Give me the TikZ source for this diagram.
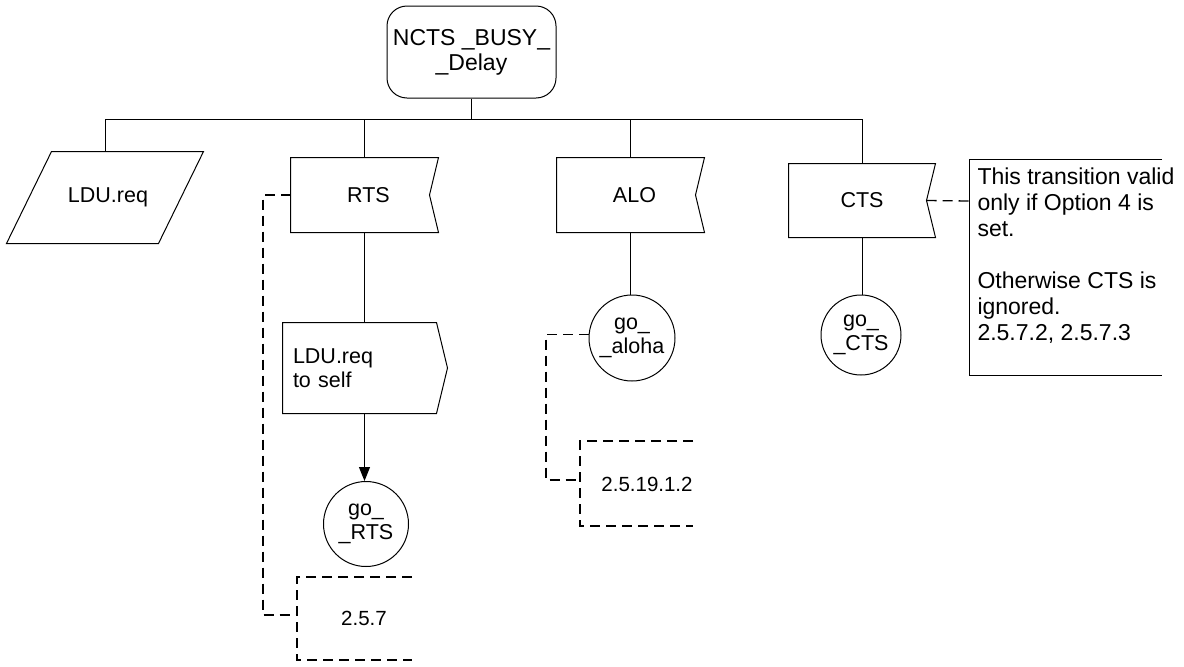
\documentclass[tikz,border=0pt]{standalone}
\usepackage{fontspec}
\setmainfont{Liberation Sans}
\usetikzlibrary{arrows.meta}
\begin{document}
\begin{tikzpicture}[x=1pt,y=-1pt,line width=1pt,
  every node/.style={font=\fontsize{21.5}{24}\selectfont, inner sep=0pt},
  dsh/.style={dash pattern=on 10pt off 6pt, line width=1.3pt},
  box/.style={minimum width=147pt, minimum height=74pt},
  conn/.style={circle, draw, align=center},
  reftext/.style={font=\fontsize{20.5}{24}\selectfont}]
\useasboundingbox (0,0) rectangle (1184,667);
% state
\node[draw, rounded corners=20pt, minimum width=169pt, minimum height=92pt, align=center, font=\fontsize{23}{25}\selectfont] (state) at (471.5,52) {NCTS \_BUSY\_\\\_Delay};
\coordinate (busL) at (105,119);
\coordinate (busR) at (863,119);
\draw (busL) -- (busR);
\draw (state.south) -- (state.south |- busL);
% LDU.req input (parallelogram)
\node[minimum width=151pt, minimum height=91pt] (ldu) at (105,197.5) {\hspace*{6pt}LDU.req};
\draw ([xshift=22.5pt]ldu.north west) -- ([xshift=22.5pt]ldu.north east) -- ([xshift=-22.5pt]ldu.south east) -- ([xshift=-22.5pt]ldu.south west) -- cycle;
\draw (busL) -- (ldu.north);
% RTS
\node[box] (rts) at (364.5,195) {\hspace*{8pt}RTS};
\draw (rts.north west) -- (rts.north east) -- ([xshift=-9pt]rts.east) -- (rts.south east) -- (rts.south west) -- cycle;
\draw (rts.north) -- (rts.north |- busL);
% ALO
\node[box] (alo) at (630.5,195) {\hspace*{8pt}ALO};
\draw (alo.north west) -- (alo.north east) -- ([xshift=-9pt]alo.east) -- (alo.south east) -- (alo.south west) -- cycle;
\draw (alo.north) -- (alo.north |- busL);
% CTS
\node[minimum width=146pt, minimum height=73pt] (cts) at (862,200.5) {CTS};
\draw (cts.north west) -- (cts.north east) -- ([xshift=-9pt]cts.east) -- (cts.south east) -- (cts.south west) -- cycle;
\draw (cts.north) -- (cts.north |- busR);
% output
\node[minimum width=153pt, minimum height=90pt, text width=133pt, inner xsep=10pt, align=left] (out) at (359.5,368) {LDU.req\\to self};
\draw (out.north west) -- (out.north east) -- ([xshift=11pt]out.east) -- (out.south east) -- (out.south west) -- cycle;
\draw (rts.south) -- (rts.south |- out.north);
% connectors
\node[conn, minimum size=85pt] (goRTS) at (366,524) {go\_\\\_RTS};
\node[conn, minimum size=86pt] (goAloha) at (632,338) {go\_\\\_aloha};
\node[conn, minimum size=80pt] (goCTS) at (861,335) {go\_\\\_CTS};
\draw[-{Triangle[length=14pt,width=11pt]}] (rts.south |- out.south) -- (rts.south |- goRTS.north);
\draw (alo.south) -- (alo.south |- goAloha.north);
\draw (cts.south) -- (cts.south |- goCTS.north);
% comments
\node[reftext] (ref1) at (364,618) {2.5.7};
\draw[dsh] (412,577) -- (297,577) -- (297,660) -- (412,660);
\coordinate (b1) at (297,615);
\draw[dsh] (rts.west) -| ([xshift=-34pt]b1) -- (b1);
\node[reftext] (ref2) at (647,484) {2.5.19.1.2};
\draw[dsh] (693,441) -- (580,441) -- (580,526) -- (693,526);
\coordinate (b2) at (580,480);
\draw[dsh] (goAloha.175) -| ([xshift=-34pt]b2) -- (b2);
\node[anchor=base west, align=left, font=\fontsize{23}{26}\selectfont] (note) at (977,340) {This transition valid\\only if Option 4 is\\set.\\[26pt]Otherwise CTS is\\ignored.\\2.5.7.2, 2.5.7.3};
\draw (1162,159) -- (969,159) -- (969,375) -- (1162,375);
\coordinate (c3) at (969,201);
\draw[dsh] ([xshift=-9pt]cts.east) -- (c3);
\end{tikzpicture}
\end{document}
